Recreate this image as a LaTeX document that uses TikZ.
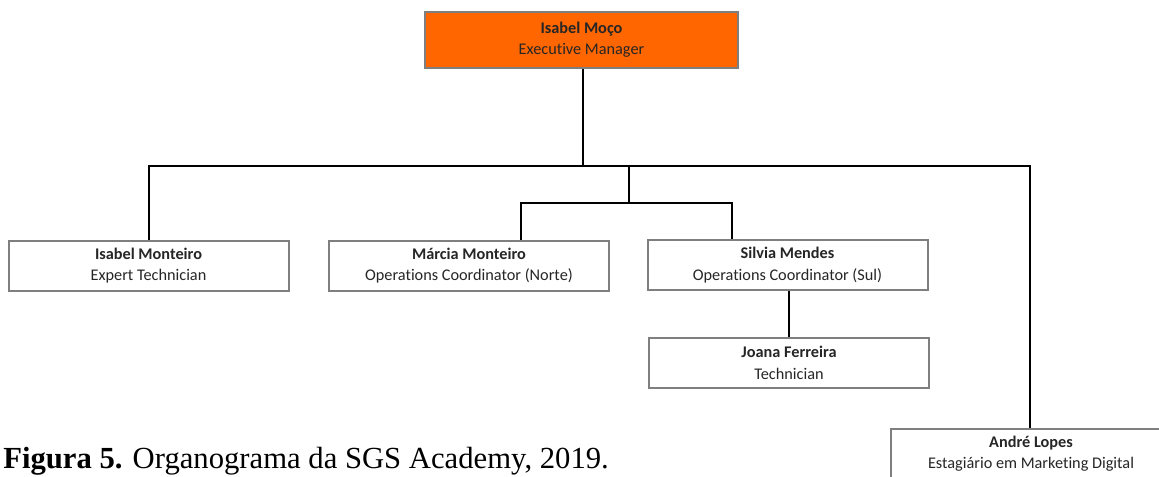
\documentclass[tikz,border=0pt]{standalone}
\usepackage{fontspec}
\setmainfont{Carlito}[Ligatures=NoCommon]
\newfontfamily\capfont{Liberation Serif}
\definecolor{boxgray}{HTML}{7F7F7F}
\definecolor{mgrorange}{HTML}{FF6600}
\definecolor{txt}{HTML}{262626}
\begin{document}
\begin{tikzpicture}[x=0.75pt,y=-0.75pt,
  person/.style={draw=boxgray,line width=1.5pt,fill=white,minimum width=210pt,minimum height=37.5pt,
    inner sep=0pt,align=center,text=txt,font=\fontsize{12.2}{16}\selectfont},
  link/.style={draw=black,line width=1pt}]
\clip (0,0) rectangle (1159,476);
\node[person,fill=mgrorange,minimum width=234.75pt,minimum height=42pt] (ceo) at (581.5,40) {\textbf{Isabel Moço}\\Executive Manager};
\node[person] (im) at (148.5,265.5) {\textbf{Isabel Monteiro}\\Expert Technician};
\node[person] (mm) at (469,265.5) {\textbf{Márcia Monteiro}\\Operations Coordinator (Norte)};
\node[person] (sm) at (787.5,265) {\textbf{Silvia Mendes}\\Operations Coordinator (Sul)};
\node[person] (jf) at (789,363) {\textbf{Joana Ferreira}\\Technician};
\node[person] (al) at (1031,454) {\textbf{André Lopes}\\Estagiário em Marketing Digital};
\coordinate (j1) at (583,166);
\coordinate (j2) at (629,203);
\draw[link] (ceo.south -| j1) -- (j1);
\draw[link] (im.north -| 149,0) |- (j1) -| (al.north -| 1030,0);
\draw[link] (j1 -| j2) -- (j2);
\draw[link] (mm.north -| 521,0) |- (j2) -| (sm.north -| 732,0);
\draw[link] (sm.south -| 789,0) -- (jf.north -| 789,0);
\node[anchor=base west,inner sep=0pt,font=\capfont\fontsize{23}{27}\selectfont] (cap) at (3,468) {\textbf{Figura 5.} Organograma da SGS Academy, 2019.};
\end{tikzpicture}
\end{document}
